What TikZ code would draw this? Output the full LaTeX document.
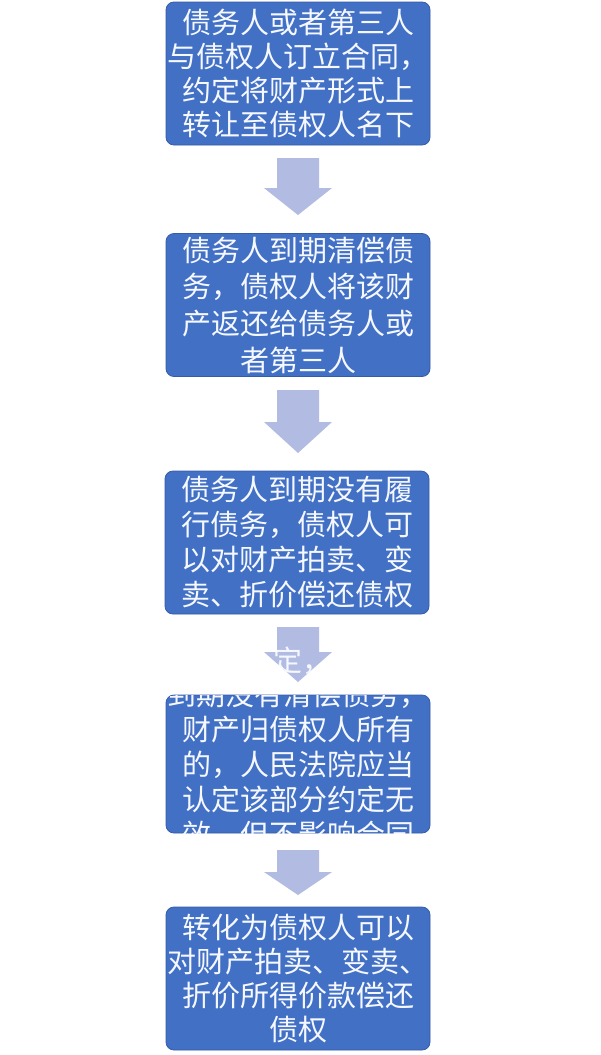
\documentclass[tikz,border=0pt]{standalone}
\usepackage{fontspec}
\setmainfont{Noto Sans CJK SC}
\definecolor{boxblue}{RGB}{66,112,196}
\definecolor{boxedge}{RGB}{52,92,170}
\definecolor{arrowfill}{RGB}{178,188,226}
\definecolor{txt}{RGB}{246,248,255}
\tikzset{
  stepbox/.style={rectangle, rounded corners=8pt, fill=boxblue, draw=boxedge, line width=0.8pt,
    minimum width=264pt, minimum height=143pt, inner sep=0pt, align=center, text=txt},
  boxtext/.style={inner sep=0pt, align=center, text=txt},
  blockarrow/.style={fill=arrowfill, draw=none}
}
\newcommand{\blockarr}[3]{%
  \fill[blockarrow] (277,#1) -- (319,#1) -- (319,#2) -- (332,#2) -- (298,#3) -- (264,#2) -- (277,#2) -- cycle;}
\begin{document}
\begin{tikzpicture}[x=1pt,y=-1pt]
\useasboundingbox[fill=white] (0,0) rectangle (600,1055);
% arrows
\blockarr{158}{188}{215}
\blockarr{390}{422}{453}
\blockarr{627}{652}{682}
\blockarr{850}{872}{895}
% boxes
\node[stepbox, font=\fontsize{29}{34}\selectfont] (b1) at (298,73.5)
  {债务人或者第三人\\与债权人订立合同，\\约定将财产形式上\\转让至债权人名下};
\node[stepbox, font=\fontsize{29}{36.7}\selectfont] (b2) at (298,305)
  {债务人到期清偿债\\务，债权人将该财\\产返还给债务人或\\者第三人};
\node[stepbox, font=\fontsize{29}{35}\selectfont] (b3) at (297,542.5)
  {债务人到期没有履\\行债务，债权人可\\以对财产拍卖、变\\卖、折价偿还债权};
\node[stepbox, minimum height=138pt] (b4) at (298,764) {};
\begin{scope}
  \clip[rounded corners=8pt] (166,695) rectangle (430,833);
  \node[boxtext, font=\fontsize{29}{35}\selectfont] (t4) at (298,765)
    {到期没有清偿债务，\\财产归债权人所有\\的，人民法院应当\\认定该部分约定无\\效，但不影响合同};
\end{scope}
\begin{scope}
  \clip (277,627) -- (319,627) -- (319,652) -- (332,652) -- (298,682) -- (264,652) -- (277,652) -- cycle;
  \node[boxtext, font=\fontsize{29}{35}\selectfont] (t4top) at (302,661) {定，};
\end{scope}
\node[stepbox, font=\fontsize{29}{33.7}\selectfont] (b5) at (298,978.5)
  {转化为债权人可以\\对财产拍卖、变卖、\\折价所得价款偿还\\债权};
\end{tikzpicture}
\end{document}
